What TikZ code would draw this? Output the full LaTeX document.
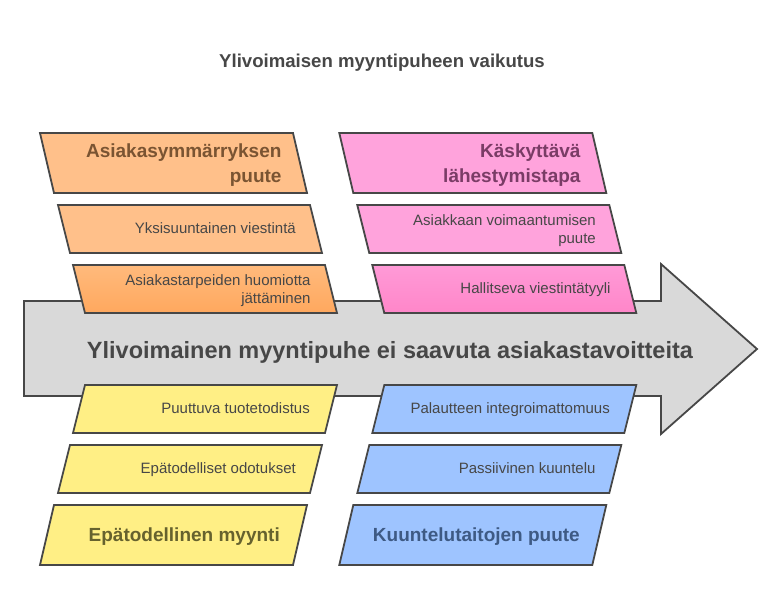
\documentclass[tikz,border=0pt]{standalone}
\usepackage{fontspec}
\setmainfont{Liberation Sans}
\definecolor{edge}{HTML}{474747}
\definecolor{txt}{HTML}{474747}
\definecolor{arrowfill}{HTML}{D9D9D9}
\definecolor{ofill}{HTML}{FFC08A}
\definecolor{otop}{HTML}{FFBA7C}
\definecolor{obot}{HTML}{FFA85E}
\definecolor{ohead}{HTML}{7A5432}
\definecolor{pfill}{HTML}{FFA3DC}
\definecolor{ptop}{HTML}{FF9AD7}
\definecolor{pbot}{HTML}{FF86C9}
\definecolor{phead}{HTML}{7A3C66}
\definecolor{yfill}{HTML}{FFEF85}
\definecolor{yhead}{HTML}{66622E}
\definecolor{bfill}{HTML}{9EC4FF}
\definecolor{bhead}{HTML}{3E5A84}
\tikzset{
  shapeline/.style={draw=edge, line width=1.8pt, line join=miter},
  headtxt/.style={font=\fontsize{19}{25}\selectfont\bfseries, anchor=base east, inner sep=0pt},
  subtxt/.style={font=\fontsize{15}{18}\selectfont, text=txt, anchor=base east, inner sep=0pt},
}
\begin{document}
\begin{tikzpicture}[x=1pt,y=-1pt]
\useasboundingbox (0,0) rectangle (782,614);
\fill[white] (0,0) rectangle (782,614);

% title
\node[font=\fontsize{18.6}{22}\selectfont\bfseries, text=txt, anchor=base, inner sep=0pt] (title) at (382,67.3) {Ylivoimaisen myyntipuheen vaikutus};

% main arrow
\draw[shapeline, fill=arrowfill] (24,301) -- (661,301) -- (661,264) -- (757,349) -- (661,434) -- (661,396) -- (24,396) -- cycle;
\node[font=\fontsize{23.5}{28}\selectfont\bfseries, text=txt, anchor=base, inner sep=0pt] (effect) at (390,358.3) {Ylivoimainen myyntipuhe ei saavuta asiakastavoitteita};

% top-left column (orange)
\draw[shapeline, fill=ofill] (40,133) -- (293,133) -- (307,193) -- (54,193) -- cycle;
\node[headtxt, text=ohead] (l1a) at (281.7,157.3) {Asiakasymmärryksen};
\node[headtxt, text=ohead] (l1b) at (281.7,182.3) {puute};
\draw[shapeline, fill=ofill] (58,205) -- (310,205) -- (322,253) -- (70,253) -- cycle;
\node[subtxt] (l2) at (296,233.5) {Yksisuuntainen viestintä};
\path[shapeline, top color=otop, bottom color=obot] (73,265) -- (325,265) -- (337,313) -- (85,313) -- cycle;
\node[subtxt] (l3a) at (310.7,285.5) {Asiakastarpeiden huomiotta};
\node[subtxt] (l3b) at (310.7,303.5) {jättäminen};

% top-right column (pink)
\draw[shapeline, fill=pfill] (339.3,133) -- (592.3,133) -- (606.3,193) -- (353.3,193) -- cycle;
\node[headtxt, text=phead] (r1a) at (580.7,157) {Käskyttävä};
\node[headtxt, text=phead] (r1b) at (580.7,182) {lähestymistapa};
\draw[shapeline, fill=pfill] (357.3,205) -- (609.3,205) -- (621.3,253) -- (369.3,253) -- cycle;
\node[subtxt] (r2a) at (596,225.3) {Asiakkaan voimaantumisen};
\node[subtxt] (r2b) at (596,243.3) {puute};
\path[shapeline, top color=ptop, bottom color=pbot] (372.3,265) -- (624.3,265) -- (636.3,313) -- (384.3,313) -- cycle;
\node[subtxt] (r3) at (610.7,293.3) {Hallitseva viestintätyyli};

% bottom-left column (yellow)
\draw[shapeline, fill=yfill] (85,385) -- (337,385) -- (325,433) -- (73,433) -- cycle;
\node[subtxt] (lb1) at (310,413.3) {Puuttuva tuotetodistus};
\draw[shapeline, fill=yfill] (70,445) -- (322,445) -- (310,493) -- (58,493) -- cycle;
\node[subtxt] (lb2) at (296,473.3) {Epätodelliset odotukset};
\draw[shapeline, fill=yfill] (54,505) -- (307,505) -- (293,565) -- (40,565) -- cycle;
\node[headtxt, text=yhead] (lb3) at (280,541.7) {Epätodellinen myynti};

% bottom-right column (blue)
\draw[shapeline, fill=bfill] (384.3,385) -- (636.3,385) -- (624.3,433) -- (372.3,433) -- cycle;
\node[subtxt] (rb1) at (610,413.3) {Palautteen integroimattomuus};
\draw[shapeline, fill=bfill] (369.3,445) -- (621.3,445) -- (609.3,493) -- (357.3,493) -- cycle;
\node[subtxt] (rb2) at (595.7,473.3) {Passiivinen kuuntelu};
\draw[shapeline, fill=bfill] (353.3,505) -- (606.3,505) -- (592.3,565) -- (339.3,565) -- cycle;
\node[headtxt, text=bhead] (rb3) at (580,541.7) {Kuuntelutaitojen puute};
\end{tikzpicture}
\end{document}
